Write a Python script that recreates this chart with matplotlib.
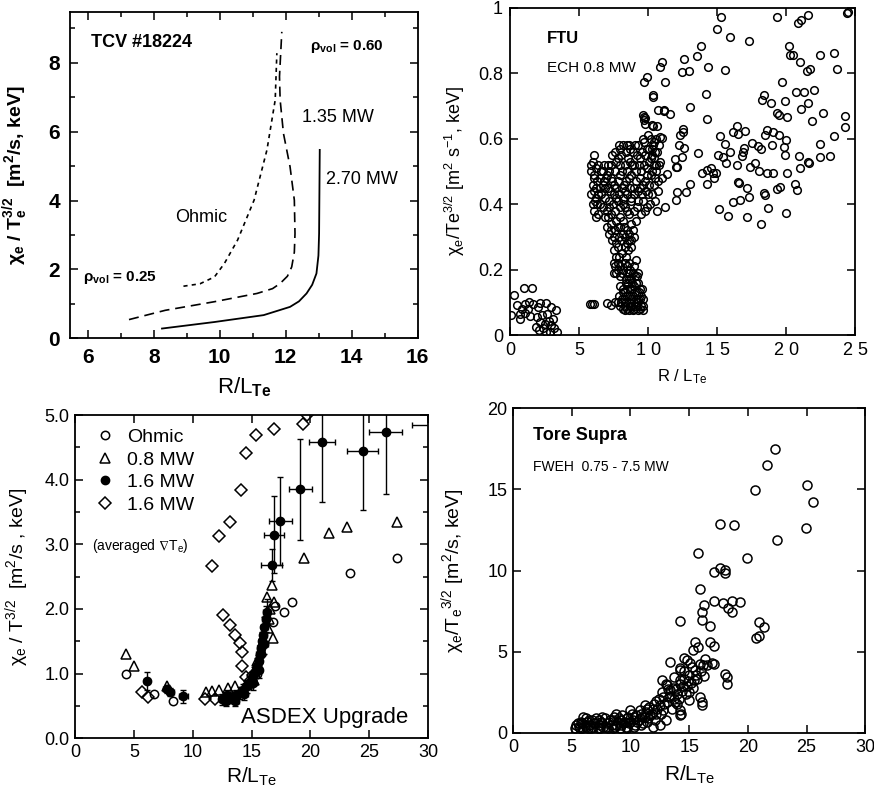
import matplotlib
matplotlib.use('Agg')
import matplotlib.pyplot as plt
from matplotlib.lines import Line2D

plt.rcParams['font.family'] = ['Liberation Sans', 'DejaVu Sans']
plt.rcParams['mathtext.fontset'] = 'custom'
plt.rcParams['mathtext.rm'] = 'Liberation Sans'
plt.rcParams['mathtext.it'] = 'Liberation Sans:italic'
plt.rcParams['mathtext.bf'] = 'Liberation Sans:bold'
plt.rcParams['mathtext.default'] = 'regular'

# ---------------- TCV #18224 (curves) ----------------
ohm_x = [8.9, 9.4, 9.84, 10.14, 10.54, 11.04, 11.43, 11.68, 11.73]
ohm_y = [1.51, 1.58, 1.78, 2.17, 2.85, 4.01, 5.47, 6.92, 8.28]
mw135_x = [7.25, 8.35, 9.84, 11.13, 11.6, 11.83, 12.05, 12.18, 12.26, 12.28, 12.26, 12.13, 11.93,
           11.83, 11.81, 11.88]
mw135_y = [0.54, 0.81, 1.06, 1.30, 1.44, 1.59, 1.80, 2.07, 2.5, 3.04, 4.01, 4.98, 5.95, 6.92, 7.6, 8.9]
mw270_x = [8.25, 9.84, 11.33, 12.13, 12.4, 12.63, 12.8, 12.93, 12.99, 13.01, 13.03]
mw270_y = [0.28, 0.47, 0.67, 0.91, 1.07, 1.30, 1.55, 1.88, 2.4, 3.04, 5.47]

# ---------------- FTU (ECH 0.8 MW) ----------------
ftu_sparse_x = [15.29, 14.98, 15.94, 17.32, 19.37, 20.89, 21.06, 21.55, 24.44, 24.5,
                13.82, 13.57, 12.61, 12.49, 12.97, 14.37, 15.56, 10.99, 10.87, 9.95,
                9.73, 11.25, 10.34, 14.2, 13.04, 11.18, 11.59, 9.73, 14.25, 20.17,
                20.29, 20.53, 22.46, 23.43, 20.97, 21.5, 21.74, 23.67, 19.71, 20.68,
                21.26, 21.98, 18.43, 18.28, 18.91, 19.95, 21.55, 21.06, 19.37, 19.45,
                20.05, 22.68, 21.84, 24.23, 24.25, 23.5, 16.43, 16.18, 16.5, 17.03,
                18.6, 19.08, 19.45, 18.48, 18.96, 19.97, 19.86, 19.88, 15.22, 15.56,
                17.51, 17.99, 18.16, 15.94, 15.05, 15.41, 15.65, 16.86, 16.79, 16.96,
                16.47, 17.39, 17.75, 18.04, 18.6, 19.03, 20.05, 20.94, 21.01, 21.55,
                21.67, 22.42, 23.19, 22.46, 16.54, 16.59, 17.15, 18.41, 18.48, 19.32,
                19.57, 20.65, 20.77, 18.72, 19.97, 17.34, 16.67, 16.18, 15.17, 15.82,
                17.15, 18.19, 13.62, 13.89, 14.25, 14.54, 14.73, 14.93, 14.78, 14.25,
                13.04, 12.75, 12.08, 12.03, 11.23, 10.63, 12.56, 12.56, 12.32, 12.27,
                12.63, 12.44, 11.96, 12.08, 12.01, 11.35, 10.87, 10.99, 10.39, 9.78,
                9.78, 9.66, 9.71, 10.27, 10.63, 10.39, 10.75, 11.16]
ftu_sparse_y = [0.973, 0.936, 0.912, 0.899, 0.971, 0.955, 0.963, 0.978, 0.984, 0.989,
                0.884, 0.854, 0.845, 0.805, 0.807, 0.82, 0.811, 0.834, 0.819, 0.79,
                0.775, 0.773, 0.729, 0.737, 0.696, 0.688, 0.675, 0.668, 0.661, 0.885,
                0.856, 0.856, 0.856, 0.861, 0.836, 0.808, 0.813, 0.813, 0.774, 0.742,
                0.742, 0.748, 0.734, 0.719, 0.71, 0.716, 0.709, 0.69, 0.678, 0.673,
                0.666, 0.68, 0.654, 0.67, 0.635, 0.609, 0.639, 0.622, 0.615, 0.625,
                0.627, 0.622, 0.612, 0.612, 0.581, 0.596, 0.576, 0.55, 0.609, 0.583,
                0.586, 0.578, 0.568, 0.561, 0.55, 0.545, 0.527, 0.558, 0.547, 0.571,
                0.521, 0.515, 0.527, 0.502, 0.496, 0.496, 0.494, 0.548, 0.51, 0.53,
                0.525, 0.545, 0.548, 0.583, 0.469, 0.464, 0.45, 0.433, 0.428, 0.446,
                0.452, 0.461, 0.443, 0.387, 0.374, 0.421, 0.413, 0.406, 0.385, 0.364,
                0.362, 0.339, 0.556, 0.494, 0.505, 0.51, 0.494, 0.494, 0.479, 0.462,
                0.462, 0.436, 0.438, 0.413, 0.391, 0.38, 0.629, 0.622, 0.612, 0.58,
                0.573, 0.545, 0.539, 0.515, 0.513, 0.492, 0.606, 0.601, 0.639, 0.645,
                0.664, 0.673, 0.656, 0.643, 0.64, 0.735, 0.689, 0.684]
ftu_dense_x = [5.9, 6.1, 6.0, 6.2, 5.9, 6.1, 6.0, 6.3, 6.1, 5.9, 6.2, 6.0, 6.3, 6.1, 6.2, 6.4,
               6.5, 6.6, 6.4, 6.5, 6.6, 6.7, 6.8, 6.8, 6.9, 6.9,
               7.0, 7.1, 7.2, 7.0, 7.3, 7.4, 7.5, 7.3, 7.6, 7.7, 7.8, 7.6, 7.8, 7.9, 8.0, 8.1,
               8.2, 8.0, 8.3, 8.4, 8.4, 8.5, 8.3, 8.6, 8.7, 8.8, 8.7, 8.8, 8.6, 8.9, 9.0, 9.1,
               9.0, 9.2, 9.1, 9.3, 9.4, 9.5, 9.4, 9.6, 9.5, 9.7, 9.8, 9.9, 9.8, 10.0, 9.9, 10.1,
               10.2, 10.3, 10.4, 10.5, 10.2, 10.4, 10.6, 10.3, 10.5, 10.7, 10.6, 10.8, 10.9, 11.0,
               10.2, 10.0, 9.6, 8.2, 8.0, 7.6, 7.2, 7.4,
               6.05, 6.25, 6.15, 6.35, 6.55, 6.7, 6.75, 6.95, 6.9, 7.1, 7.15, 7.25, 7.35, 7.45,
               7.55, 7.65, 7.7, 7.85, 7.9, 7.95, 8.05, 8.1, 8.15, 8.25, 8.35, 8.45, 8.5, 8.55,
               8.65, 8.75, 8.85, 8.95, 8.95, 9.05, 9.15, 9.25, 9.3, 9.35, 9.45, 9.55, 9.55, 9.65,
               9.7, 9.75, 9.85, 9.95, 10.05, 10.1, 10.15, 10.3, 10.35, 10.45, 10.5, 10.55, 10.65,
               10.7, 10.8, 10.45, 10.25, 9.9, 9.2, 8.5, 8.7, 7.95,
               7.0, 7.2, 7.4, 7.3, 7.6, 7.7, 7.5, 7.9, 8.0, 8.2, 8.3, 8.1, 8.5, 8.6, 8.8, 9.0,
               8.8, 8.4, 8.6, 8.7, 7.5, 7.6, 7.8, 7.7, 8.0, 8.0, 8.2, 8.4,
               7.1, 7.35, 7.55, 7.65, 7.8, 7.85, 8.05, 8.15, 8.25, 8.35, 8.45, 8.55, 8.65, 8.75,
               8.9, 8.5, 8.3, 7.9, 7.65, 7.55, 7.85, 8.1, 8.45, 8.65, 8.9,
               8.0, 8.2, 8.1, 8.3, 8.2, 8.4, 8.5, 8.6, 8.5, 8.7, 8.8, 8.9, 8.8, 9.0, 9.1, 9.0,
               9.2, 9.3, 9.3, 9.4, 9.5, 9.6, 9.6, 8.6, 8.0, 7.9, 9.2, 8.6, 9.4,
               8.05, 8.15, 8.25, 8.35, 8.4, 8.45, 8.55, 8.65, 8.7, 8.75, 8.85, 8.95, 9.05, 9.1,
               9.15, 9.25, 9.35, 9.4, 9.5, 9.55, 9.65, 8.3, 8.9, 9.25, 8.85, 9.05, 9.3, 8.95, 9.1,
               5.8, 5.95, 6.1, 7.0, 7.3, 7.6, 7.8]
ftu_dense_y = [0.52, 0.55, 0.53, 0.51, 0.50, 0.48, 0.46, 0.47, 0.44, 0.43, 0.42, 0.40, 0.40, 0.38, 0.36, 0.37,
               0.45, 0.50, 0.52, 0.48, 0.43, 0.39, 0.47, 0.52, 0.42, 0.36,
               0.49, 0.45, 0.41, 0.38, 0.52, 0.47, 0.43, 0.37, 0.50, 0.45, 0.41, 0.38, 0.54, 0.58, 0.49, 0.45,
               0.42, 0.36, 0.52, 0.56, 0.47, 0.43, 0.39, 0.58, 0.53, 0.49, 0.45, 0.41, 0.37, 0.56, 0.52, 0.47,
               0.43, 0.39, 0.35, 0.58, 0.54, 0.50, 0.45, 0.41, 0.37, 0.59, 0.55, 0.51, 0.47, 0.43, 0.39, 0.57,
               0.54, 0.55, 0.52, 0.56, 0.49, 0.46, 0.50, 0.43, 0.41, 0.44, 0.60, 0.58, 0.53, 0.48,
               0.60, 0.61, 0.60, 0.58, 0.52, 0.56, 0.50, 0.55,
               0.49, 0.45, 0.41, 0.43, 0.40, 0.46, 0.50, 0.48, 0.45, 0.52, 0.39, 0.44, 0.48, 0.40,
               0.46, 0.42, 0.53, 0.47, 0.43, 0.39, 0.55, 0.50, 0.40, 0.46, 0.44, 0.50, 0.38, 0.54,
               0.48, 0.42, 0.52, 0.45, 0.38, 0.58, 0.50, 0.44, 0.41, 0.52, 0.48, 0.56, 0.43, 0.46,
               0.52, 0.38, 0.44, 0.49, 0.53, 0.46, 0.40, 0.50, 0.58, 0.54, 0.48, 0.52, 0.56,
               0.47, 0.52, 0.59, 0.57, 0.57, 0.55, 0.58, 0.57, 0.57,
               0.33, 0.31, 0.29, 0.34, 0.32, 0.28, 0.26, 0.30, 0.33, 0.31, 0.27, 0.25, 0.32, 0.29, 0.34, 0.30,
               0.27, 0.24, 0.22, 0.20, 0.22, 0.21, 0.22, 0.19, 0.21, 0.18, 0.20, 0.17,
               0.36, 0.32, 0.30, 0.35, 0.33, 0.27, 0.29, 0.35, 0.33, 0.30, 0.28, 0.26, 0.31, 0.29,
               0.32, 0.21, 0.22, 0.24, 0.24, 0.19, 0.20, 0.19, 0.19, 0.17, 0.19,
               0.15, 0.13, 0.11, 0.09, 0.08, 0.16, 0.12, 0.10, 0.08, 0.14, 0.17, 0.12, 0.09, 0.15, 0.11, 0.08,
               0.13, 0.16, 0.10, 0.08, 0.12, 0.09, 0.075, 0.075, 0.09, 0.12, 0.18, 0.19, 0.14,
               0.10, 0.14, 0.11, 0.13, 0.10, 0.14, 0.16, 0.12, 0.09, 0.11, 0.14, 0.10, 0.13, 0.09,
               0.16, 0.11, 0.13, 0.11, 0.09, 0.14, 0.11, 0.075, 0.075, 0.075, 0.16, 0.18, 0.19, 0.21, 0.23,
               0.095, 0.095, 0.095, 0.098, 0.092, 0.10, 0.10]
ftu_low_x = [0.3, 0.1, 0.7, 0.5, 1.0, 1.6, 1.1, 1.4, 1.7, 1.1, 1.45, 0.7, 2.2, 2.6, 3.0, 3.3,
             1.95, 2.2, 2.5, 2.8, 3.1, 2.7, 3.2, 2.6, 2.1, 1.9, 2.4, 3.4, 3.0, 0.9, 2.0, 1.3, 2.3, 2.9]
ftu_low_y = [0.122, 0.062, 0.064, 0.092, 0.145, 0.143, 0.095, 0.102, 0.095, 0.068, 0.058, 0.048,
             0.099, 0.097, 0.087, 0.077, 0.055, 0.04, 0.035, 0.042, 0.05, 0.065, 0.02, 0.01, 0.015,
             0.025, 0.02, 0.01, 0.03, 0.08, 0.085, 0.08, 0.06, 0.01]

# ---------------- ASDEX Upgrade ----------------
aug_ohm_x = [4.3, 6.7, 8.35, 14.5, 15.5, 15.8, 16.8, 17.0, 17.75, 18.4, 23.4, 27.35]
aug_ohm_y = [0.99, 0.68, 0.57, 0.80, 1.00, 1.30, 1.80, 2.05, 1.95, 2.10, 2.55, 2.78]
aug_08_x = [4.3, 5.0, 7.78, 11.1, 11.65, 12.25, 13.0, 13.6, 14.8, 15.2, 15.5, 16.0, 16.3, 16.4,
            16.6, 16.7, 16.9, 16.8, 19.45, 21.6, 23.07, 27.37, 14.0, 15.8, 16.5]
aug_08_y = [1.30, 1.12, 0.81, 0.71, 0.73, 0.75, 0.77, 0.80, 0.85, 0.90, 1.20, 1.50, 2.19, 1.70,
            2.00, 2.37, 2.10, 1.55, 2.78, 3.18, 3.26, 3.35, 0.72, 1.35, 1.85]
aug_16_x = [6.1, 7.8, 8.1, 9.2, 12.5, 12.8, 13.1, 13.4, 13.7, 14.0, 14.3, 14.6, 14.8, 15.0, 15.2,
            15.4, 15.5, 15.6, 15.7, 15.8, 15.9, 16.0, 16.1, 16.2, 16.3, 16.7, 16.9, 17.45, 19.15,
            20.95, 24.45, 26.4, 31.0, 12.9, 13.6, 14.4, 15.1, 15.6, 16.1]
aug_16_y = [0.89, 0.76, 0.71, 0.65, 0.60, 0.58, 0.62, 0.62, 0.66, 0.70, 0.75, 0.80, 0.86, 0.92, 1.00,
            1.05, 1.12, 1.20, 1.30, 1.40, 1.50, 1.60, 1.72, 1.85, 1.95, 2.68, 3.15, 3.36, 3.85,
            4.58, 4.45, 4.73, 4.84, 0.66, 0.58, 0.68, 0.85, 1.05, 1.45]
aug_16_xerr = [0.2, 0.3, 0.3, 0.4, 0.3, 0.3, 0.3, 0.3, 0.3, 0.3, 0.3, 0.3, 0.3, 0.3, 0.3,
               0.3, 0.3, 0.3, 0.3, 0.3, 0.3, 0.3, 0.3, 0.3, 0.3, 0.9, 0.85, 0.95, 1.0,
               1.1, 1.3, 1.4, 2.4, 0.3, 0.3, 0.3, 0.3, 0.3, 0.3]
aug_16_yerr = [0.14, 0.06, 0.06, 0.1, 0.08, 0.08, 0.08, 0.08, 0.08, 0.09, 0.09, 0.1, 0.1, 0.1, 0.1,
               0.12, 0.12, 0.12, 0.14, 0.14, 0.15, 0.15, 0.15, 0.2, 0.2, 0.25, 0.6, 0.68, 0.78,
               0.93, 0.92, 0.95, 0.0, 0.08, 0.08, 0.09, 0.1, 0.12, 0.15]
aug_avg_x = [5.66, 6.22, 11.04, 11.88, 11.6, 12.22, 13.16, 14.1, 14.5, 15.34, 16.9, 19.33, 19.7,
             12.59, 13.21, 13.58, 14.06, 14.23, 14.23, 14.5, 14.9, 15.1]
aug_avg_y = [0.72, 0.63, 0.60, 0.60, 2.66, 3.13, 3.35, 3.84, 4.41, 4.69, 4.79, 4.86, 5.0,
             1.90, 1.75, 1.59, 1.47, 1.33, 1.11, 0.95, 0.88, 0.98]

# ---------------- Tore Supra (FWEH) ----------------
ts_x = [22.34, 21.63, 20.64, 25.03, 25.52, 24.95, 22.48, 17.66, 18.85, 15.72, 19.93, 17.09, 17.66,
        18.08, 18.08, 15.95, 17.15, 17.89, 18.65, 19.3, 18.28, 18.65, 16.24, 16.1, 16.1, 16.8,
        14.19, 20.98, 21.35, 20.72, 20.98, 15.47, 16.8, 17.09, 15.33, 15.72, 13.4, 14.53, 15.1,
        16.38, 16.95, 18.08, 18.22, 18.22, 15.95, 16.1, 16.1, 13.11, 12.69, 13.68, 14.25, 14.96,
        14.25, 14.25, 13.97, 13.4, 15.38, 14.96, 15.24, 14.82, 14.19, 15.95, 16.52, 17.09,
        5.3, 5.5, 5.6, 5.8, 5.9, 6.0, 6.1, 6.3, 6.4, 6.5, 6.7, 6.8, 7.0, 7.1, 7.2, 7.4, 7.5, 7.7,
        7.8, 8.0, 8.1, 8.3, 8.4, 8.6, 8.7, 8.9, 9.0, 9.2, 9.3, 9.5, 9.6, 9.8, 9.9, 10.1, 10.2,
        10.4, 10.5, 10.7, 10.8, 11.0, 11.1, 11.3, 11.5, 11.6, 11.8, 12.0, 12.1, 12.3, 12.4, 12.6,
        12.7, 12.9, 13.0, 13.0, 12.5, 11.9, 6.2, 7.6, 8.8, 10.0, 11.2,
        13.3, 13.6, 13.8, 14.0, 14.2, 14.4, 14.6, 14.8, 13.5, 14.3, 15.0, 15.2, 15.5, 15.7, 16.0, 16.2,
        5.4, 5.7, 5.9, 6.2, 6.5, 6.6, 6.9, 7.3, 7.4, 7.6, 7.9, 8.2, 8.5, 8.5, 8.8, 9.1, 9.1, 9.4,
        9.7, 9.7, 10.0, 10.3, 10.3, 10.6, 10.9, 10.9, 11.2, 11.4, 11.4, 11.7, 11.9, 12.2, 12.2,
        12.5, 12.8, 12.8, 13.1, 13.2, 13.4, 13.7, 13.9, 14.1, 14.5, 14.7, 14.9, 15.3, 15.6, 16.3,
        14.6, 14.2]
ts_y = [17.47, 16.5, 14.96, 15.27, 14.24, 12.6, 11.88, 12.88, 12.84, 11.08, 10.77, 9.94, 10.15,
        10.05, 9.85, 8.88, 8.16, 8.03, 8.16, 8.06, 7.69, 7.44, 7.89, 7.48, 6.97, 6.6,
        6.9, 6.82, 6.51, 5.84, 6.0, 5.63, 5.63, 5.36, 5.12, 5.28, 4.4, 4.6, 4.3,
        4.54, 4.3, 3.66, 3.45, 3.04, 2.22, 1.91, 1.7, 2.94, 3.25, 3.45, 3.25, 2.53,
        1.4, 1.09, 1.81, 2.63, 3.25, 2.01, 4.07, 4.48, 3.9, 4.28, 4.17, 4.28,
        0.3, 0.6, 0.4, 0.7, 0.3, 1.0, 0.5, 0.7, 0.3, 0.5, 0.8, 0.4, 0.6, 0.9, 0.3, 0.5, 0.7, 0.4,
        0.9, 0.6, 0.3, 0.8, 0.5, 1.0, 0.4, 0.7, 0.9, 0.5, 1.1, 0.7, 0.4, 1.0, 0.6, 1.2, 0.8,
        0.5, 1.1, 0.8, 1.4, 1.0, 0.6, 1.3, 0.9, 1.6, 1.2, 1.8, 0.8, 1.5, 2.1, 1.2,
        2.5, 1.8, 3.0, 0.8, 0.5, 0.4, 0.9, 1.0, 1.2, 1.4, 1.7,
        2.2, 2.8, 1.9, 2.4, 3.0, 2.6, 3.3, 2.9, 1.5, 1.2, 3.6, 3.1, 3.9, 3.3, 3.8, 4.2,
        0.5, 0.3, 0.6, 0.4, 0.8, 0.3, 0.6, 0.8, 0.3, 0.6, 0.4, 0.7, 0.3, 0.8, 0.5, 0.8, 0.3, 0.6,
        0.9, 0.3, 0.7, 1.0, 0.4, 0.7, 1.2, 0.5, 1.0, 1.5, 0.7, 1.1, 1.5, 1.2, 2.0,
        1.7, 2.2, 1.4, 1.9, 2.7, 2.3, 2.1, 2.7, 2.1, 2.9, 2.4, 3.2, 2.8, 3.6, 3.5,
        3.8, 4.0]


fig = plt.figure(figsize=(8.74, 7.92), dpi=100)

def style_axes(ax):
    for s in ax.spines.values():
        s.set_linewidth(1.3)
    ax.tick_params(which='both', direction='in', top=True, right=True, width=1.1)
    ax.tick_params(which='major', length=6)
    ax.tick_params(which='minor', length=3.5)

# ---- panel 1: TCV ----
ax1 = fig.add_axes([0.080, 0.573, 0.398, 0.412])
ax1.plot(ohm_x, ohm_y, color='k', lw=1.2, ls=(0, (2.5, 2.5)))
ax1.plot(mw135_x, mw135_y, color='k', lw=1.2, ls=(0, (6, 3.5)))
ax1.plot(mw270_x, mw270_y, color='k', lw=1.3, ls='-')
ax1.set_xlim(5.46, 16)
ax1.set_ylim(0, 9.48)
ax1.set_xticks([6, 8, 10, 12, 14, 16])
ax1.set_yticks([0, 2, 4, 6, 8])
ax1.set_xticks([7, 9, 11, 13, 15], minor=True)
ax1.set_yticks([1, 3, 5, 7, 9], minor=True)
style_axes(ax1)
ax1.tick_params(labelsize=15, pad=7)
for t in ax1.get_xticklabels() + ax1.get_yticklabels():
    t.set_fontweight('bold')
ax1.text(6.11, 8.58, 'TCV #18224', fontsize=13, fontweight='bold', va='center')
ax1.text(12.72, 8.46, r'$\mathbf{\rho_{vol}}$ = 0.60', fontsize=11, fontweight='bold', va='center')
ax1.text(12.48, 6.4, '1.35 MW', fontsize=13, va='center')
ax1.text(13.22, 4.6, '2.70 MW', fontsize=13, va='center')
ax1.text(8.66, 3.52, 'Ohmic', fontsize=13, va='center')
ax1.text(5.85, 1.77, r'$\mathbf{\rho_{vol}}$ = 0.25', fontsize=11, fontweight='bold', va='center')
ax1.set_xlabel(r'R/L$_{\mathbf{Te}}$', fontsize=16)
ax1.set_ylabel(r'$\mathbf{\chi_e}$ / $\mathbf{T_e^{3/2}}$  [m$\mathbf{^2}$/s, keV]', fontsize=14, fontweight='bold')
ax1.xaxis.set_label_coords(0.5, -0.115)
ax1.yaxis.set_label_coords(-0.115, 0.5)

# ---- panel 2: FTU ----
ax2 = fig.add_axes([0.5835, 0.577, 0.395, 0.413])
mk = dict(marker='o', ls='none', mfc='none', mec='k', ms=5.5, mew=1.1)
ax2.plot(ftu_sparse_x, ftu_sparse_y, **mk)
ax2.plot(ftu_dense_x, ftu_dense_y, **mk)
ax2.plot(ftu_low_x, ftu_low_y, **mk)
ax2.set_xlim(0, 25)
ax2.set_ylim(0, 1)
ax2.set_xticks([0, 5, 10, 15, 20, 25])
ax2.set_xticklabels(['0', '5', '1 0', '1 5', '2 0', '2 5'])
ax2.set_yticks([0, 0.2, 0.4, 0.6, 0.8, 1.0])
ax2.set_yticklabels(['0', '0.2', '0.4', '0.6', '0.8', '1'])
style_axes(ax2)
ax2.tick_params(labelsize=13, pad=5)
ax2.text(2.68, 0.908, 'FTU', fontsize=12, fontweight='bold', va='center')
ax2.text(2.68, 0.817, 'ECH 0.8 MW', fontsize=11, va='center')
ax2.set_xlabel(r'R / L$_{Te}$', fontsize=12)
ax2.set_ylabel(r'$\chi_e$/Te$^{3/2}$ [m$^2$ s$^{-1}$, keV]', fontsize=13)
ax2.xaxis.set_label_coords(0.5, -0.1)
ax2.yaxis.set_label_coords(-0.125, 0.5)

# ---- panel 3: ASDEX Upgrade ----
ax3 = fig.add_axes([0.0858, 0.068, 0.404, 0.408])
ax3.errorbar(aug_16_x, aug_16_y, xerr=aug_16_xerr, yerr=aug_16_yerr, fmt='o', color='k',
             ms=6, capsize=2.5, elinewidth=1.0, capthick=1.0, clip_on=True)
ax3.plot(aug_ohm_x, aug_ohm_y, marker='o', ls='none', mfc='none', mec='k', ms=6, mew=1.1)
ax3.plot(aug_08_x, aug_08_y, marker='^', ls='none', mfc='none', mec='k', ms=7, mew=1.1)
ax3.plot(aug_avg_x, aug_avg_y, marker='D', ls='none', mfc='none', mec='k', ms=6, mew=1.1)
ax3.set_xlim(0, 30)
ax3.set_ylim(0, 5)
ax3.set_xticks([0, 5, 10, 15, 20, 25, 30])
ax3.set_yticks([0, 1, 2, 3, 4, 5])
ax3.set_yticklabels(['0.0', '1.0', '2.0', '3.0', '4.0', '5.0'])
ax3.set_yticks([0.5, 1.5, 2.5, 3.5, 4.5], minor=True)
style_axes(ax3)
ax3.tick_params(labelsize=13, pad=4)
handles = [
    Line2D([], [], marker='o', ls='none', mfc='none', mec='k', ms=6, mew=1.1),
    Line2D([], [], marker='^', ls='none', mfc='none', mec='k', ms=7, mew=1.1),
    Line2D([], [], marker='o', ls='none', mfc='k', mec='k', ms=6),
    Line2D([], [], marker='D', ls='none', mfc='none', mec='k', ms=6, mew=1.1),
]
ax3.legend(handles, ['Ohmic', '0.8 MW', '1.6 MW', '1.6 MW'], loc='upper left', frameon=False,
           fontsize=14, handlelength=1.0, handletextpad=0.6, labelspacing=0.25,
           borderaxespad=0.3, bbox_to_anchor=(0.02, 1.0))
ax3.text(0.048, 0.594, r'(averaged $\nabla$T$_e$)', transform=ax3.transAxes, fontsize=10, va='center')
ax3.text(0.47, 0.046, 'ASDEX Upgrade', transform=ax3.transAxes, fontsize=16, va='baseline')
ax3.set_xlabel(r'R/L$_{Te}$', fontsize=15)
ax3.set_ylabel(r'$\chi_e$ / T$^{3/2}$  [m$^2$/s , keV]', fontsize=14)
ax3.xaxis.set_label_coords(0.5, -0.085)
ax3.yaxis.set_label_coords(-0.125, 0.5)

# ---- panel 4: Tore Supra ----
ax4 = fig.add_axes([0.587, 0.0745, 0.403, 0.410])
ax4.plot(ts_x, ts_y, marker='o', ls='none', mfc='none', mec='k', ms=6.5, mew=1.1)
ax4.set_xlim(0, 30)
ax4.set_ylim(0, 20)
ax4.set_xticks([0, 5, 10, 15, 20, 25, 30])
ax4.set_yticks([0, 5, 10, 15, 20])
style_axes(ax4)
ax4.tick_params(labelsize=13, pad=4)
ax4.text(0.057, 0.917, 'Tore Supra', transform=ax4.transAxes, fontsize=13, fontweight='bold', va='center')
ax4.text(0.057, 0.818, 'FWEH  0.75 - 7.5 MW', transform=ax4.transAxes, fontsize=10, va='center')
ax4.set_xlabel(r'R/L$_{Te}$', fontsize=15)
ax4.set_ylabel(r'$\chi_e$/T$_e$$^{3/2}$ [m$^2$/s, keV]', fontsize=14)
ax4.xaxis.set_label_coords(0.5, -0.095)
ax4.yaxis.set_label_coords(-0.13, 0.5)

fig.savefig('out.png', dpi=100)
